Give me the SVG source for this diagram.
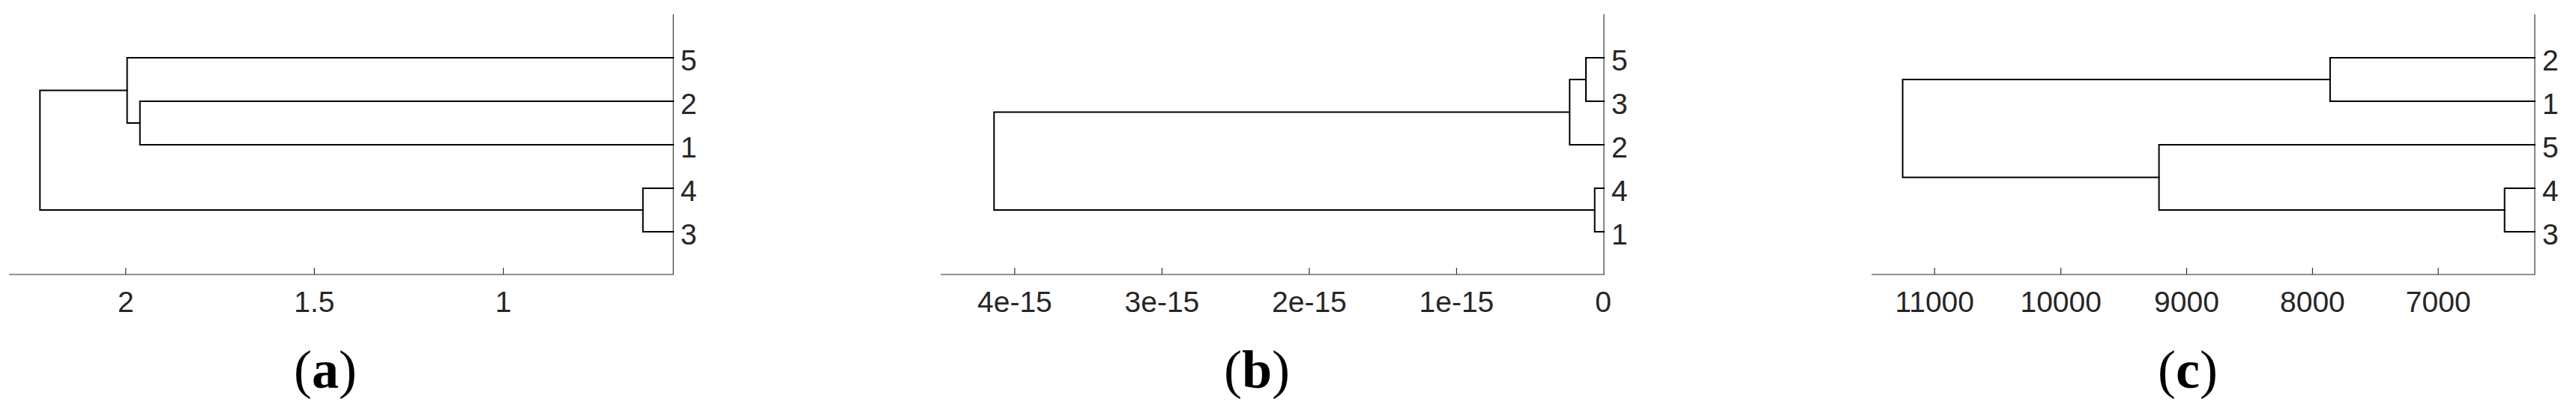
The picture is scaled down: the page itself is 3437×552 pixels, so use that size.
<svg xmlns="http://www.w3.org/2000/svg" width="3437" height="552" viewBox="0 0 3437 552">
<style>
.bg{fill:#ffffff}
.link{fill:none;stroke:#000000;stroke-width:2;stroke-linejoin:miter;stroke-linecap:square}
.axis{fill:none;stroke:#262626;stroke-width:1.1}
.tick{font-family:"Liberation Sans",Arial,sans-serif;font-size:39px;fill:#262626;text-anchor:middle}
.leaf{font-family:"Liberation Sans",Arial,sans-serif;font-size:39px;fill:#262626}
.cap{font-family:"Liberation Serif","Times New Roman",serif;font-size:72px;fill:#000000;text-anchor:middle}
.cap .b{font-weight:bold}
</style>
<rect class="bg" x="0" y="0" width="3437" height="552"/>

<g id="panel-a">
  <g id="axis-a">
    <path class="axis" d="M12.3,366 H898.3 V19"/>
    <path class="axis" d="M167.8,366 V357 M419.4,366 V357 M671.6,366 V357"/>
    <text class="tick" x="167.8" y="416">2</text>
    <text class="tick" x="419.4" y="416">1.5</text>
    <text class="tick" x="671.6" y="416">1</text>
  </g>
  <g id="connectors-a">
    <path class="link" d="M898.3,135 H186.7 V193 H898.3"/>
    <path class="link" d="M898.3,77 H169.6 V164 H186.7"/>
    <path class="link" d="M898.3,251 H857.8 V309 H898.3"/>
    <path class="link" d="M169.6,120.5 H53.3 V280 H857.8"/>
  </g>
  <g id="a-leaf-5"><text class="leaf" x="908" y="93.5">5</text></g>
  <g id="a-leaf-2"><text class="leaf" x="908" y="151.5">2</text></g>
  <g id="a-leaf-1"><text class="leaf" x="908" y="209.5">1</text></g>
  <g id="a-leaf-4"><text class="leaf" x="908" y="267.5">4</text></g>
  <g id="a-leaf-3"><text class="leaf" x="908" y="325.5">3</text></g>
  <g id="caption-a"><text class="cap" x="434" y="517">(<tspan class="b">a</tspan>)</text></g>
</g>

<g id="panel-b">
  <g id="axis-b">
    <path class="axis" d="M1255.3,366 H2140 V19"/>
    <path class="axis" d="M1353.9,366 V357 M1550.4,366 V357 M1746.9,366 V357 M1943.4,366 V357"/>
    <text class="tick" x="1353.9" y="416">4e-15</text>
    <text class="tick" x="1550.4" y="416">3e-15</text>
    <text class="tick" x="1746.9" y="416">2e-15</text>
    <text class="tick" x="1943.4" y="416">1e-15</text>
    <text class="tick" x="2139" y="416">0</text>
  </g>
  <g id="connectors-b">
    <path class="link" d="M2140,77 H2116 V135 H2140"/>
    <path class="link" d="M2116,106 H2094.3 V193 H2140"/>
    <path class="link" d="M2140,251 H2127.7 V309 H2140"/>
    <path class="link" d="M2094.3,149.5 H1326.3 V280 H2127.7"/>
  </g>
  <g id="b-leaf-5"><text class="leaf" x="2150" y="93.5">5</text></g>
  <g id="b-leaf-3"><text class="leaf" x="2150" y="151.5">3</text></g>
  <g id="b-leaf-2"><text class="leaf" x="2150" y="209.5">2</text></g>
  <g id="b-leaf-4"><text class="leaf" x="2150" y="267.5">4</text></g>
  <g id="b-leaf-1"><text class="leaf" x="2150" y="325.5">1</text></g>
  <g id="caption-b"><text class="cap" x="1677" y="517">(<tspan class="b">b</tspan>)</text></g>
</g>

<g id="panel-c">
  <g id="axis-c">
    <path class="axis" d="M2497.2,366 H3382 V19"/>
    <path class="axis" d="M2581.2,366 V357 M2749.7,366 V357 M2917.5,366 V357 M3085.4,366 V357 M3253.2,366 V357"/>
    <text class="tick" x="2581.2" y="416">11000</text>
    <text class="tick" x="2749.7" y="416">10000</text>
    <text class="tick" x="2917.5" y="416">9000</text>
    <text class="tick" x="3085.4" y="416">8000</text>
    <text class="tick" x="3253.2" y="416">7000</text>
  </g>
  <g id="connectors-c">
    <path class="link" d="M3382,77 H3108.9 V135 H3382"/>
    <path class="link" d="M3382,251 H3341.7 V309 H3382"/>
    <path class="link" d="M3382,193 H2880.6 V280 H3341.7"/>
    <path class="link" d="M3108.9,106 H2538.6 V236.5 H2880.6"/>
  </g>
  <g id="c-leaf-2"><text class="leaf" x="3392" y="93.5">2</text></g>
  <g id="c-leaf-1"><text class="leaf" x="3392" y="151.5">1</text></g>
  <g id="c-leaf-5"><text class="leaf" x="3392" y="209.5">5</text></g>
  <g id="c-leaf-4"><text class="leaf" x="3392" y="267.5">4</text></g>
  <g id="c-leaf-3"><text class="leaf" x="3392" y="325.5">3</text></g>
  <g id="caption-c"><text class="cap" x="2919" y="517">(<tspan class="b">c</tspan>)</text></g>
</g>
</svg>
